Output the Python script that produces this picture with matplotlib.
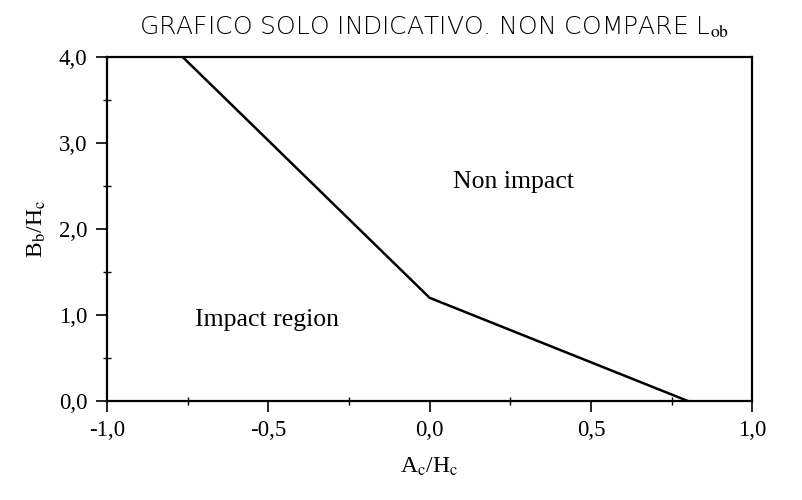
import numpy as np
import matplotlib
matplotlib.use("Agg")
import matplotlib.pyplot as plt
from matplotlib.ticker import MultipleLocator, FuncFormatter

# boundary between impact and non impact
ac_hc = [-0.765, 0.0, 0.8]
bb_hc = [4.0, 1.2, 0.0]

plt.rcParams['font.family'] = 'Liberation Serif'
plt.rcParams['mathtext.fontset'] = 'stix'

fig = plt.figure(figsize=(8.03, 5.0), dpi=100)
ax = fig.add_axes([0.133, 0.198, 0.804, 0.688])

ax.plot(ac_hc, bb_hc, color='black', lw=1.8)

ax.set_xlim(-1.0, 1.0)
ax.set_ylim(0.0, 4.0)
ax.xaxis.set_major_locator(MultipleLocator(0.5))
ax.xaxis.set_minor_locator(MultipleLocator(0.25))
ax.yaxis.set_major_locator(MultipleLocator(1.0))
ax.yaxis.set_minor_locator(MultipleLocator(0.5))
comma = FuncFormatter(lambda v, p: f"{v:.1f}".replace('.', ','))
ax.xaxis.set_major_formatter(comma)
ax.yaxis.set_major_formatter(comma)
ax.tick_params(which='major', direction='out', length=8, width=1.2, labelsize=16.5, pad=6)
ax.tick_params(which='minor', direction='inout', length=6, width=1.0)
for s in ax.spines.values():
    s.set_linewidth(1.6)

ax.set_xlabel(r'A$_\mathrm{c}$/H$_\mathrm{c}$', fontsize=17, labelpad=10)
ax.set_ylabel(r'B$_\mathrm{b}$/H$_\mathrm{c}$', fontsize=17, labelpad=8)

ax.text(-0.728, 0.94, 'Impact region', fontsize=18.5, ha='left', va='center')
ax.text(0.071, 2.55, 'Non impact', fontsize=18.5, ha='left', va='center')

fig.text(0.173, 0.945, 'GRAFICO SOLO INDICATIVO. NON COMPARE L$_{\\mathrm{ob}}$',
         fontsize=18, family='DejaVu Sans', fontweight='light', ha='left', va='center')

fig.savefig('out.png', dpi=100)
